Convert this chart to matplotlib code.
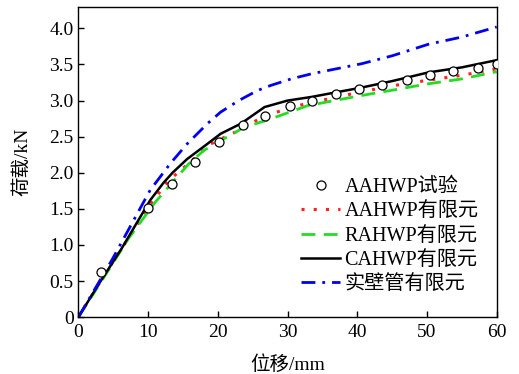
import matplotlib
matplotlib.use("Agg")
import matplotlib.pyplot as plt

plt.rcParams["font.family"] = ["Liberation Serif", "Noto Sans CJK SC"]
plt.rcParams["mathtext.fontset"] = "stix"

# test points (AAHWP)
test_x = [3.3, 10.0, 13.4, 16.8, 20.1, 23.6, 26.8, 30.3, 33.5, 36.9, 40.3,
          43.6, 47.1, 50.5, 53.8, 57.3, 60.0]
test_y = [0.62, 1.51, 1.85, 2.15, 2.42, 2.66, 2.79, 2.92, 3.00, 3.09, 3.16,
          3.22, 3.29, 3.36, 3.41, 3.45, 3.50]

# FE curves
aa_x = [0, 3, 6.2, 8.4, 10, 12.9, 15, 17.6, 19.0, 20.5, 23.3, 26.7, 28.1, 33.4,
        35.8, 40, 45.4, 50, 55, 60]
aa_y = [0, 0.47, 0.95, 1.27, 1.52, 1.89, 2.06, 2.28, 2.40, 2.47, 2.60, 2.79,
        2.83, 2.98, 3.02, 3.11, 3.21, 3.28, 3.35, 3.44]

ra_x = [0, 3, 7.2, 11.0, 13.7, 15.8, 18.0, 20.5, 23.8, 27.1, 32.9, 40, 45.4,
        50, 55, 60]
ra_y = [0, 0.45, 1.09, 1.59, 1.89, 2.12, 2.31, 2.45, 2.63, 2.73, 2.93, 3.06,
        3.15, 3.23, 3.30, 3.40]

ca_x = [0, 3, 6.2, 10.3, 12.2, 13.5, 15.6, 18.5, 20.4, 23.3, 26.7, 30, 33.4,
        40.6, 45, 50.2, 55, 60]
ca_y = [0, 0.47, 0.95, 1.62, 1.86, 2.00, 2.19, 2.40, 2.54, 2.68, 2.91, 3.00,
        3.05, 3.18, 3.27, 3.39, 3.46, 3.56]

sw_x = [0, 4.8, 8.2, 10.3, 13.2, 15.6, 18.5, 20.4, 23.0, 25.7, 27.6, 30.5,
        33.4, 40.6, 45, 50.2, 55, 60]
sw_y = [0, 0.79, 1.39, 1.76, 2.13, 2.40, 2.68, 2.84, 3.00, 3.14, 3.21, 3.30,
        3.37, 3.51, 3.62, 3.78, 3.88, 4.02]

labels = ["AAHWP试验", "AAHWP有限元", "RAHWP有限元", "CAHWP有限元", "实壁管有限元"]

x_ticks = [0, 10, 20, 30, 40, 50, 60]
y_ticks = [0, 0.5, 1.0, 1.5, 2.0, 2.5, 3.0, 3.5, 4.0]
y_tick_labels = ["0", "0.5", "1.0", "1.5", "2.0", "2.5", "3.0", "3.5", "4.0"]

fig = plt.figure(figsize=(5.19, 3.74), dpi=100)
ax = fig.add_axes([0.151, 0.152, 0.806, 0.83])

ax.plot(test_x, test_y, "o", mfc="white", mec="black", ms=6.5, mew=0.9,
        label=labels[0], zorder=5)
ax.plot(aa_x, aa_y, color="#ff2020", ls=(0, (1, 3)), lw=2.2, label=labels[1])
ax.plot(ra_x, ra_y, color="#22dd22", ls=(0, (5, 3)), lw=2.0, label=labels[2])
ax.plot(ca_x, ca_y, color="black", ls="-", lw=1.8, label=labels[3])
ax.plot(sw_x, sw_y, color="#0000ee", ls=(0, (5, 2.5, 1, 2.5)), lw=2.0,
        label=labels[4])

ax.set_xlim(0, 60)
ax.set_ylim(0, 4.3)
ax.set_xticks(x_ticks)
ax.set_yticks(y_ticks)
ax.set_yticklabels(y_tick_labels)
ax.tick_params(direction="in", length=4, width=1, labelsize=14)
ax.tick_params(axis="x", pad=5)
for s in ax.spines.values():
    s.set_linewidth(1.0)

ax.set_xlabel("位移/mm", fontsize=14, labelpad=10)
ax.set_ylabel("荷载/kN", fontsize=14, labelpad=13)

ax.legend(loc="upper right", bbox_to_anchor=(0.99, 0.493), frameon=False,
          fontsize=14.5, handlelength=1.95, handletextpad=0.2,
          labelspacing=0.25, borderpad=0.2)

fig.savefig("out.png", dpi=100)
